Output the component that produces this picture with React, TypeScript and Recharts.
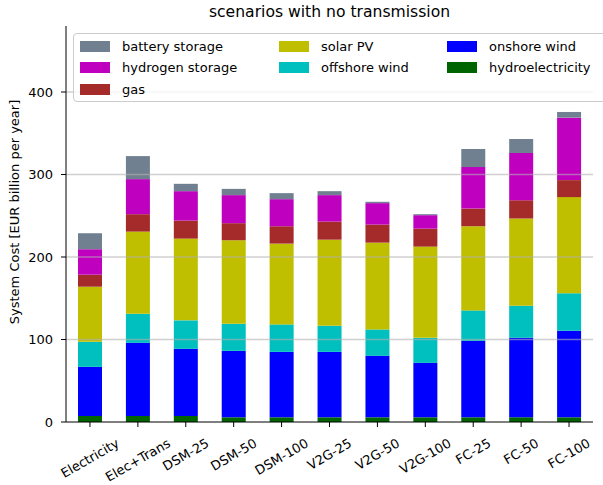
import { BarChart, Bar, XAxis, YAxis, ReferenceLine } from 'recharts';

const categories = ['Electricity', 'Elec+Trans', 'DSM-25', 'DSM-50', 'DSM-100', 'V2G-25', 'V2G-50', 'V2G-100', 'FC-25', 'FC-50', 'FC-100'];

const hydroelectricity = [7.3, 7.3, 7.3, 5.7, 5.7, 5.7, 5.7, 5.7, 5.7, 5.7, 5.7];
const onshoreWind = [59.5, 88.7, 81.4, 80.5, 79.3, 79.3, 74.5, 66.0, 92.7, 96.3, 104.8];
const offshoreWind = [30.4, 35.2, 34.5, 32.8, 33.3, 31.6, 32.0, 30.3, 36.9, 38.9, 45.5];
const solarPV = [66.8, 99.6, 99.1, 101.3, 97.9, 104.4, 105.2, 110.6, 102.0, 105.7, 116.6];
const gas = [14.6, 21.1, 21.9, 20.7, 21.1, 21.9, 21.9, 21.8, 21.4, 22.3, 20.6];
const hydrogenStorage = [30.8, 42.5, 35.6, 34.0, 32.8, 32.1, 26.0, 16.3, 50.3, 57.1, 75.7];
const batteryStorage = [19.4, 27.9, 8.9, 7.6, 7.3, 4.8, 1.6, 1.2, 21.9, 17.0, 6.9];

const yTicks = [0, 100, 200, 300, 400];
const gridTicks = [100, 200, 300, 400];

const title = 'scenarios with no transmission';
const yLabel = 'System Cost [EUR billion per year]';

// stacking order, bottom first
const series = [
  { key: 'hydro', name: 'hydroelectricity', color: '#006400', values: hydroelectricity },
  { key: 'onshore', name: 'onshore wind', color: '#0000ff', values: onshoreWind },
  { key: 'offshore', name: 'offshore wind', color: '#00bfbf', values: offshoreWind },
  { key: 'solar', name: 'solar PV', color: '#bfbf00', values: solarPV },
  { key: 'gas', name: 'gas', color: '#a52a2a', values: gas },
  { key: 'hydrogen', name: 'hydrogen storage', color: '#bf00bf', values: hydrogenStorage },
  { key: 'battery', name: 'battery storage', color: '#708090', values: batteryStorage },
];

const data = categories.map((name, i) => {
  const row: any = { name };
  series.forEach((s) => { row[s.key] = s.values[i]; });
  return row;
});

const FONT = '"DejaVu Sans", sans-serif';

let measureCtx: CanvasRenderingContext2D | null = null;
function textWidth(s: string) {
  if (!measureCtx) measureCtx = document.createElement('canvas').getContext('2d');
  if (!measureCtx) return s.length * 7;
  measureCtx.font = '13px "DejaVu Sans"';
  return measureCtx.measureText(s).width;
}

// matplotlib style: rotated 30deg, centred under the tick, top of the box at a fixed gap
function RotatedTick(props: any) {
  const { x, y, payload } = props;
  const w = textWidth(payload.value);
  const cy = y + 6 + w / 4;
  return (
    <text x={x} y={cy} textAnchor="middle" dominantBaseline="central" fontSize={13} fontFamily={FONT} fill="#000" transform={`rotate(-30 ${x} ${cy})`}>
      {payload.value}
    </text>
  );
}

function YLabel(props: any) {
  const vb = props.viewBox || { y: 26, height: 396 };
  const cy = vb.y + vb.height / 2 - 12;
  return (
    <text x={14} y={cy} textAnchor="middle" dominantBaseline="central" fontSize={13} fontFamily={FONT} fill="#000" transform={`rotate(-90 14 ${cy})`}>
      {yLabel}
    </text>
  );
}

// legend fills column by column like matplotlib (ncol=3 -> 3,2,2)
const legendColSizes = [3, 2, 2];
const legendCols = [6, 205, 373];
const legendRows = [12.5, 33.5, 55];

function LegendBox() {
  const items = [...series].reverse();
  const placed: { s: any; col: number; row: number }[] = [];
  let idx = 0;
  legendColSizes.forEach((n, col) => {
    for (let row = 0; row < n; row++) {
      if (items[idx]) placed.push({ s: items[idx], col, row });
      idx++;
    }
  });
  return (
    <div style={{
      position: 'absolute', left: 73, top: 33, width: 545, height: 67,
      background: 'rgba(255,255,255,0.8)', border: '1px solid #cccccc', borderRadius: 4,
      fontFamily: FONT, fontSize: 13, color: '#000',
    }}>
      {placed.map(({ s, col, row }) => (
        <div key={s.key} style={{ position: 'absolute', left: legendCols[col], top: legendRows[row] - 8, height: 16, display: 'flex', alignItems: 'center', whiteSpace: 'nowrap' }}>
          <span style={{ display: 'inline-block', width: 30, height: 11, background: s.color, marginRight: 12 }} />
          <span>{s.name}</span>
        </div>
      ))}
    </div>
  );
}

export default function App() {
  return (
    <div style={{ position: 'absolute', left: 0, top: 0, width: 603, height: 485, overflow: 'hidden', background: '#fff' }}>
      <div style={{ position: 'absolute', left: 66, top: 3, width: 527, textAlign: 'center', fontFamily: FONT, fontSize: 15.6, lineHeight: '19px', color: '#000' }}>
        {title}
      </div>
      <BarChart width={603} height={485} data={data} margin={{ top: 26, right: 10, left: 0, bottom: 0 }} barSize={24}>
        <XAxis dataKey="name" height={63} interval={0} tickSize={5} tickMargin={9} tick={<RotatedTick />} axisLine={{ stroke: '#000' }} tickLine={{ stroke: '#000' }} />
        <XAxis xAxisId="top" orientation="top" dataKey="name" height={0} tick={false} tickLine={false} axisLine={{ stroke: '#000' }} />
        <YAxis
          width={66}
          domain={[0, 480]}
          ticks={yTicks}
          tickSize={5}
          tickMargin={8}
          allowDataOverflow
          tick={{ fontSize: 13, fontFamily: FONT, fill: '#000' }}
          axisLine={{ stroke: '#000' }}
          tickLine={{ stroke: '#000' }}
          label={<YLabel />}
        />
        <YAxis yAxisId="right" orientation="right" width={0} tick={false} tickLine={false} axisLine={{ stroke: '#000' }} />
        {series.map((s) => (
          <Bar key={s.key} dataKey={s.key} name={s.name} stackId="cost" fill={s.color} isAnimationActive={false} />
        ))}
        {gridTicks.map((t) => (
          <ReferenceLine key={t} y={t} stroke="#b0b0b0" strokeOpacity={0.6} strokeWidth={1.5} />
        ))}
      </BarChart>
      <LegendBox />
    </div>
  );
}
